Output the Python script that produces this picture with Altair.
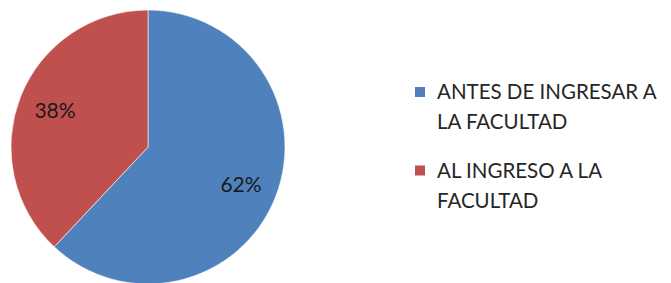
import altair as alt
import pandas as pd

categories = ["ANTES DE INGRESAR A LA FACULTAD", "AL INGRESO A LA FACULTAD"]
legend_lines = [["ANTES DE INGRESAR A", "LA FACULTAD"], ["AL INGRESO A LA", "FACULTAD"]]
values = [62, 38]
labels = ["62%", "38%"]
colors = ["#4F81BD", "#C0504D"]

df = pd.DataFrame({
    "cat": categories,
    "value": values,
    "label": labels,
    "idx": list(range(len(categories))),
})
leg = pd.DataFrame({
    "cat": categories,
    "lines": legend_lines,
})

color = alt.Color("cat:N", scale=alt.Scale(domain=categories, range=colors), legend=None)
cx, cy = 140, 138

pie = alt.Chart(df).mark_arc(outerRadius=137, stroke="#ffffff", strokeWidth=0.6).encode(
    theta=alt.Theta("value:Q", stack=True),
    color=color,
    order=alt.Order("idx:Q"),
    x=alt.value(cx), y=alt.value(cy),
)

pct = alt.Chart(df).mark_text(radius=100, font="Lato", fontSize=21, color="#1a1a1a", dy=2).encode(
    theta=alt.Theta("value:Q", stack=True),
    order=alt.Order("idx:Q"),
    text="label:N",
    x=alt.value(cx), y=alt.value(cy),
)

ypos = alt.Y("cat:N", scale=alt.Scale(type="point", domain=categories, range=[83, 161.5], padding=0), axis=None)

sq = alt.Chart(leg).mark_square(size=100, opacity=1).encode(
    x=alt.value(412), y=ypos, color=color,
)
txt = alt.Chart(leg).mark_text(font="Lato", fontSize=20.5, color="#262626", align="left",
                               baseline="middle", lineHeight=30, dy=1).encode(
    x=alt.value(429), y=ypos, text="lines",
)

chart = alt.layer(pie, pct, sq, txt).properties(
    width=655, height=267, padding=0
).configure_view(stroke=None)

chart.save("out.html", embed_options={"renderer": "svg", "actions": False})
